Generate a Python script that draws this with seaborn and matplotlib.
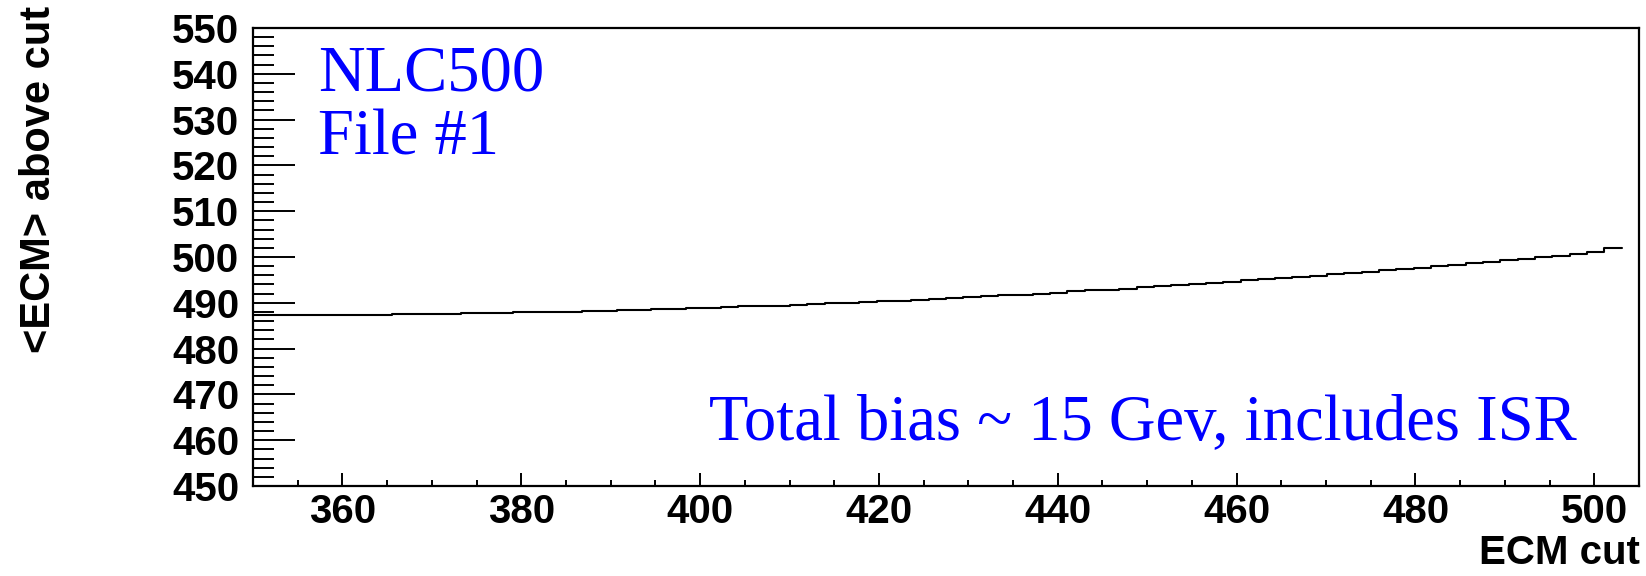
import numpy as np
import pandas as pd
import matplotlib
matplotlib.use("Agg")
import matplotlib.pyplot as plt
from matplotlib.ticker import MultipleLocator
import seaborn as sns

# ---- data ----
x_min, x_max = 350.0, 505.0
n_bins_total = 80
mean_ecm_above_cut = [
    487.3, 487.3, 487.3, 487.3, 487.4, 487.4, 487.4, 487.4, 487.5, 487.5,
    487.6, 487.6, 487.7, 487.7, 487.8, 487.9, 487.9, 488.0, 488.1, 488.2,
    488.3, 488.4, 488.5, 488.6, 488.7, 488.8, 488.9, 489.0, 489.2, 489.3,
    489.4, 489.6, 489.7, 489.9, 490.0, 490.2, 490.3, 490.5, 490.7, 490.9,
    491.0, 491.2, 491.4, 491.6, 491.8, 492.0, 492.2, 492.5, 492.7, 492.9,
    493.1, 493.4, 493.6, 493.8, 494.1, 494.3, 494.6, 494.9, 495.1, 495.4,
    495.7, 495.9, 496.2, 496.5, 496.8, 497.1, 497.4, 497.7, 498.0, 498.3,
    498.6, 499.0, 499.3, 499.6, 500.0, 500.3, 500.7, 501.0, 501.9,
]
x_ticks = [360, 380, 400, 420, 440, 460, 480, 500]
y_ticks = [450, 460, 470, 480, 490, 500, 510, 520, 530, 540, 550]
x_title = "ECM cut"
y_title = "<ECM> above cut"
label_top = ["NLC500", "File #1"]
label_bottom = "Total bias ~ 15 Gev, includes ISR"

# ---- build step table ----
width = (x_max - x_min) / n_bins_total
edges = x_min + width * np.arange(len(mean_ecm_above_cut) + 1)
df = pd.DataFrame({
    "ecm_cut": edges,
    "mean": mean_ecm_above_cut + [mean_ecm_above_cut[-1]],
})

sns.set_theme(style="white")
plt.rcParams["font.family"] = ["Liberation Sans", "DejaVu Sans"]
plt.rcParams["text.color"] = "black"
plt.rcParams["xtick.color"] = "black"
plt.rcParams["ytick.color"] = "black"
plt.rcParams["xtick.labelcolor"] = "black"
plt.rcParams["ytick.labelcolor"] = "black"

fig = plt.figure(figsize=(16.46, 5.76), dpi=100)
ax = fig.add_axes([253 / 1646, 90 / 576, (1639 - 253) / 1646, (486 - 28) / 576])

sns.lineplot(data=df, x="ecm_cut", y="mean", ax=ax, drawstyle="steps-post",
             color="black", linewidth=1.5, estimator=None, sort=False)

ax.set_xlim(x_min, x_max)
ax.set_ylim(450, 550)
ax.set_xticks(x_ticks)
ax.set_yticks(y_ticks)
ax.xaxis.set_minor_locator(MultipleLocator(5))
ax.yaxis.set_minor_locator(MultipleLocator(2))
ax.tick_params(axis="both", which="both", direction="in", color="black",
               width=1.4, top=False, right=False, bottom=True, left=True)
ax.tick_params(axis="x", which="major", length=9.6, pad=5, labelsize=29,
               labelcolor="black")
ax.tick_params(axis="x", which="minor", length=4.6)
ax.tick_params(axis="y", which="major", length=30, pad=10, labelsize=29,
               labelcolor="black")
ax.tick_params(axis="y", which="minor", length=15)
for lab in ax.get_xticklabels() + ax.get_yticklabels():
    lab.set_fontweight("bold")
for sp in ax.spines.values():
    sp.set_visible(True)
    sp.set_color("black")
    sp.set_linewidth(1.6)
ax.set_xlabel("")
ax.set_ylabel("")

fig.text(1640 / 1646, 1 - 564 / 576, x_title, ha="right", va="baseline",
         fontsize=29, fontweight="bold", color="black")
fig.text(19 / 1646, 1 - 6 / 576, y_title, ha="right", va="top", rotation=90,
         rotation_mode="anchor", fontsize=30, fontweight="bold", color="black")

serif = ["Liberation Serif", "DejaVu Serif"]
ax.text(357.3, 536.4, label_top[0], color="blue", fontsize=46.5, family=serif,
        va="baseline", ha="left")
ax.text(357.3, 522.4, label_top[1], color="blue", fontsize=46.5, family=serif,
        va="baseline", ha="left")
ax.text(401.0, 460.2, label_bottom, color="blue", fontsize=46.5, family=serif,
        va="baseline", ha="left")

fig.savefig("out.png", dpi=100, facecolor="white")
